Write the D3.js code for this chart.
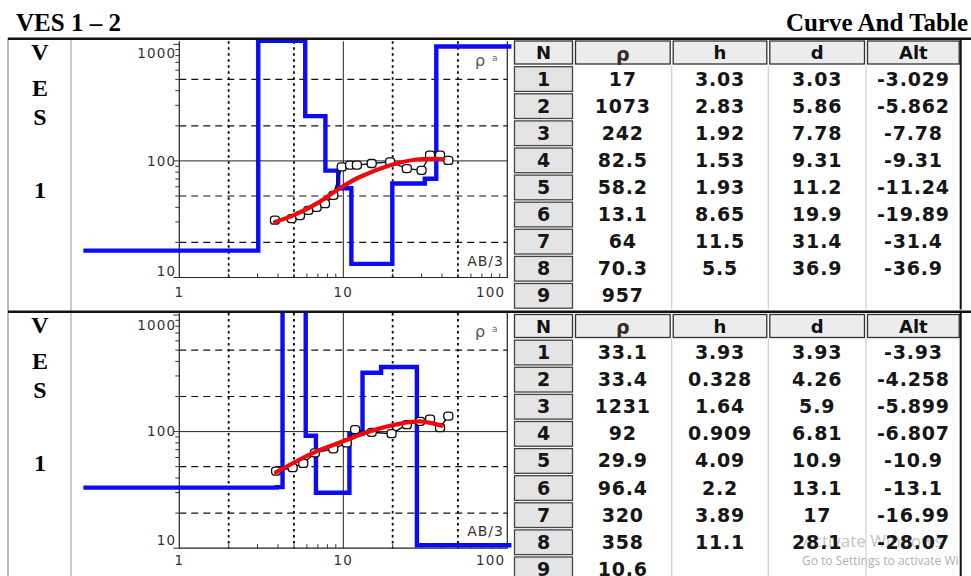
<!DOCTYPE html>
<html>
<head>
<meta charset="utf-8">
<script src="https://cdn.jsdelivr.net/npm/d3@7"></script>
<style>
  body { margin: 0; background: #fff; }
  svg { display: block; }
</style>
</head>
<body>
<svg id="chart" width="971" height="576"></svg>
<script>
// layer tables, as printed
const rho1 = ["17", "1073", "242", "82.5", "58.2", "13.1", "64", "70.3", "957"];
const h1 = ["3.03", "2.83", "1.92", "1.53", "1.93", "8.65", "11.5", "5.5"];
const d1 = ["3.03", "5.86", "7.78", "9.31", "11.2", "19.9", "31.4", "36.9"];
const alt1 = ["-3.029", "-5.862", "-7.78", "-9.31", "-11.24", "-19.89", "-31.4", "-36.9"];

const rho2 = ["33.1", "33.4", "1231", "92", "29.9", "96.4", "320", "358", "10.6"];
const h2 = ["3.93", "0.328", "1.64", "0.909", "4.09", "2.2", "3.89", "11.1"];
const d2 = ["3.93", "4.26", "5.9", "6.81", "10.9", "13.1", "17", "28.1"];
const alt2 = ["-3.93", "-4.258", "-5.899", "-6.807", "-10.9", "-13.1", "-16.99", "-28.07"];

// field points (AB/3, rho a)
const ab1 = [3.83, 4.84, 5.44, 6.12, 6.88, 7.73, 8.69, 9.78, 11, 12.1, 14.9, 19.3, 24.4, 30, 33.8, 38.9, 43.7];
const rhoA1 = [31, 32, 34, 37.7, 40, 43, 50.7, 88.8, 92, 92, 95, 98, 86, 83, 112, 112, 101];
const ab2 = [3.89, 4.91, 5.7, 6.72, 8.69, 10.5, 11.8, 14.9, 19.7, 24.4, 29.4, 33.8, 38.9, 43.7];
const rhoA2 = [45.9, 49, 53.3, 65.8, 71.2, 80, 104, 98.6, 96, 114.7, 122.5, 128, 108, 136];

// fitted (red) curves
const fitAb1 = [3.83, 4.96, 6.88, 9.78, 12.6, 19.3, 28, 40.7];
const fitRho1 = [29.9, 34.1, 43, 59.7, 72.8, 91.8, 102.8, 103.5];
const fitAb2 = [3.89, 6.56, 10, 14.6, 22.2, 29.4, 39.8];
const fitRho2 = [44.7, 65.8, 82.6, 100.6, 117, 122.5, 112.5];

const xTicks = [1, 10, 100];
const yTicks = [10, 100, 1000];
const xGrid = [2, 5, 20, 50];
const yGrid = [20, 50, 200, 500];
const modelStart = 0.26, modelEnd = 106;
const headers = ["N", "ρ", "h", "d", "Alt"];

const svg = d3.select("#chart");
const W = 971, H = 576;
const sans = "'DejaVu Sans', Verdana, sans-serif";
const serif = "'Liberation Serif', 'Times New Roman', serif";

// titles
svg.append("text").attr("x", 16).attr("y", 31)
  .attr("font-family", serif).attr("font-weight", "bold").attr("font-size", 25)
  .text("VES 1 – 2");
svg.append("text").attr("x", 968).attr("y", 31).attr("text-anchor", "end")
  .attr("font-family", serif).attr("font-weight", "bold").attr("font-size", 25)
  .text("Curve And Table");

// outer frame lines
svg.append("line").attr("x1", 8).attr("x2", 8).attr("y1", 38).attr("y2", H)
  .attr("stroke", "#777").attr("stroke-width", 1);
svg.append("line").attr("x1", 71).attr("x2", 71).attr("y1", 38).attr("y2", H)
  .attr("stroke", "#999").attr("stroke-width", 1);

const panels = [
  { top: 40, bottom: 311, yTop: 44.3, rho: rho1, h: h1, d: d1, alt: alt1, ab: ab1, ra: rhoA1, fx: fitAb1, fy: fitRho1, tTop: 39.5, lblDown: 8.5, lblUp: 6.5, xLbl: 19 },
  { top: 313, bottom: 576, yTop: 315, rho: rho2, h: h2, d: d2, alt: alt2, ab: ab2, ra: rhoA2, fx: fitAb2, fy: fitRho2, tTop: 313, lblDown: 10, lblUp: 8.5, xLbl: 17 }
];

panels.forEach((p, k) => {
  const g = svg.append("g");
  const x = d3.scaleLog().domain([1, 100]).range([179.3, 507.3]);
  const y = d3.scaleLog().domain([10, 1000]).range([p.yTop + 233.2, p.yTop]);
  const y0 = y(10), pTop = Math.max(p.top, y(1000) - 3);

  // VES label column
  const letters = ["V", "E", "S", "1"];
  const offs = [20, 56, 85, 158];
  letters.forEach((t, i) => {
    g.append("text").attr("x", 40).attr("y", p.top + offs[i]).attr("text-anchor", "middle")
      .attr("font-family", serif).attr("font-weight", "bold").attr("font-size", 24)
      .text(t);
  });

  // grid
  g.selectAll(".vg").data(xGrid).join("line")
    .attr("x1", d => x(d)).attr("x2", d => x(d)).attr("y1", pTop).attr("y2", y0)
    .attr("stroke", "#000").attr("stroke-width", 1.8).attr("stroke-dasharray", "2.5,3.5");
  g.selectAll(".hg").data(yGrid).join("line")
    .attr("x1", x(1)).attr("x2", x(100)).attr("y1", d => y(d)).attr("y2", d => y(d))
    .attr("stroke", "#111").attr("stroke-width", 1.2).attr("stroke-dasharray", "7,5");
  g.append("line").attr("x1", x(10)).attr("x2", x(10)).attr("y1", pTop).attr("y2", y0)
    .attr("stroke", "#222").attr("stroke-width", 1);
  g.append("line").attr("x1", x(1)).attr("x2", x(100)).attr("y1", y(100)).attr("y2", y(100))
    .attr("stroke", "#222").attr("stroke-width", 1);

  // frame
  g.append("path")
    .attr("d", `M${x(1)},${pTop}V${y0}H${x(100)}V${pTop}`)
    .attr("fill", "none").attr("stroke", "#222").attr("stroke-width", 1.2);

  // minor ticks
  const yMinor = d3.range(1, 3).flatMap(e => d3.range(2, 10).map(m => m * Math.pow(10, e)));
  g.selectAll(".ym").data(yMinor).join("line")
    .attr("x1", x(1) - 4).attr("x2", x(1)).attr("y1", d => y(d)).attr("y2", d => y(d))
    .attr("stroke", "#333").attr("stroke-width", 1);
  g.selectAll(".yM").data(yTicks).join("line")
    .attr("x1", x(1) - 6).attr("x2", x(1)).attr("y1", d => y(d)).attr("y2", d => y(d))
    .attr("stroke", "#333").attr("stroke-width", 1);
  const xMinor = d3.range(0, 2).flatMap(e => d3.range(2, 10).map(m => m * Math.pow(10, e)));
  g.selectAll(".xm").data(xMinor).join("line")
    .attr("x1", d => x(d)).attr("x2", d => x(d)).attr("y1", y0).attr("y2", y0 - 4)
    .attr("stroke", "#333").attr("stroke-width", 1);

  // tick labels
  g.selectAll(".yl").data(yTicks).join("text")
    .attr("x", x(1) - 3).attr("text-anchor", "end")
    .attr("y", d => Math.min(Math.max(y(d), y(1000) + p.lblDown), y0 - p.lblUp) + 4.8)
    .attr("font-family", sans).attr("font-size", 13.5).attr("letter-spacing", 1.2)
    .attr("fill", "#333").text(d => d);
  g.selectAll(".xl").data(xTicks).join("text")
    .attr("x", (d, i) => i === 2 ? x(d) - 2 : x(d))
    .attr("text-anchor", (d, i) => i === 2 ? "end" : "middle")
    .attr("y", y0 + p.xLbl)
    .attr("font-family", sans).attr("font-size", 13.5).attr("letter-spacing", 1.2)
    .attr("fill", "#333").text(d => d);

  g.append("text").attr("x", 475).attr("y", y(1000) + 22)
    .attr("font-family", sans).attr("font-size", 16).attr("fill", "#555").text("ρ");
  g.append("text").attr("x", 492).attr("y", y(1000) + 17)
    .attr("font-family", sans).attr("font-size", 9).attr("fill", "#666").text("a");
  g.append("text").attr("x", 504).attr("y", y0 - 12).attr("text-anchor", "end")
    .attr("font-family", sans).attr("font-size", 14).attr("letter-spacing", 1)
    .attr("fill", "#333").text("AB/3");

  // layered model (blue steps)
  const clipId = "clip" + k;
  svg.append("clipPath").attr("id", clipId).append("rect")
    .attr("x", 72).attr("y", p.top).attr("width", 440).attr("height", p.bottom - p.top);
  const r = p.rho.map(Number), z = p.d.map(Number);
  const steps = [[modelStart, r[0]]];
  z.forEach((v, i) => { steps.push([v, r[i]], [v, r[i + 1]]); });
  steps.push([modelEnd, r[r.length - 1]]);
  g.append("path").attr("clip-path", `url(#${clipId})`)
    .attr("d", d3.line().x(d => x(d[0])).y(d => y(d[1]))(steps))
    .attr("fill", "none").attr("stroke", "#0b0bf5").attr("stroke-width", 4.4)
    .attr("stroke-linejoin", "miter");

  // field curve
  const field = p.ab.map((v, i) => [v, p.ra[i]]);
  g.append("path").attr("d", d3.line().x(d => x(d[0])).y(d => y(d[1]))(field))
    .attr("fill", "none").attr("stroke", "#111").attr("stroke-width", 1.4);
  g.selectAll(".pt").data(field).join("rect")
    .attr("x", d => x(d[0]) - 4.5).attr("y", d => y(d[1]) - 4).attr("width", 9).attr("height", 8)
    .attr("rx", 3).attr("fill", "#fff").attr("stroke", "#111").attr("stroke-width", 1.3);

  // fitted curve
  const fit = p.fx.map((v, i) => [v, p.fy[i]]);
  g.append("path")
    .attr("d", d3.line().x(d => x(d[0])).y(d => y(d[1])).curve(d3.curveCatmullRom)(fit))
    .attr("fill", "none").attr("stroke", "#ee0a0a").attr("stroke-width", 4.2)
    .attr("stroke-linecap", "round");

  // table
  const t = svg.append("g");
  const cols = [513, 574, 671.7, 768.3, 866, 960.7];
  const headH = 26, rowH = 27.1;
  const rowsTop = p.tTop + headH;
  const tBottom = Math.min(rowsTop + 9 * rowH, H);
  t.append("rect").attr("x", cols[0]).attr("y", p.tTop).attr("width", cols[5] - cols[0])
    .attr("height", tBottom - p.tTop).attr("fill", "#fff");

  if (k === 1) {
    // watermark behind the numbers
    t.append("text").attr("x", 803).attr("y", 547).attr("font-family", "'Open Sans', sans-serif")
      .attr("font-size", 17).attr("fill", "#c4c4c4").text("Activate Windows");
    t.append("text").attr("x", 802).attr("y", 565).attr("font-family", "'Open Sans', sans-serif")
      .attr("font-size", 12).attr("fill", "#b0b0b0").text("Go to Settings to activate Wi");
  }

  // header cells
  headers.forEach((hd, i) => {
    t.append("rect").attr("x", cols[i] + 1.5).attr("y", p.tTop + 1.5)
      .attr("width", cols[i + 1] - cols[i] - 3).attr("height", headH - 3)
      .attr("fill", "#ececec").attr("stroke", "#333").attr("stroke-width", 1.3);
    t.append("text").attr("x", (cols[i] + cols[i + 1]) / 2).attr("y", p.tTop + (i === 1 ? 21 : 19.5))
      .attr("text-anchor", "middle").attr("font-family", sans).attr("font-weight", "bold")
      .attr("font-size", i === 1 ? 19 : 18).attr("fill", i === 1 ? "#3b2a22" : "#111")
      .text(hd);
  });

  // column separators
  [2, 3, 4].forEach(i => {
    t.append("line").attr("x1", cols[i]).attr("x2", cols[i]).attr("y1", rowsTop).attr("y2", tBottom)
      .attr("stroke", "#cfcfcf").attr("stroke-width", 1.2);
  });
  t.append("line").attr("x1", cols[5]).attr("x2", cols[5]).attr("y1", p.tTop).attr("y2", tBottom)
    .attr("stroke", "#111").attr("stroke-width", 2);

  // N cells and values
  d3.range(9).forEach(i => {
    const ry = rowsTop + i * rowH;
    t.append("rect").attr("x", cols[0] + 1.5).attr("y", ry + 1.2)
      .attr("width", cols[1] - cols[0] - 3).attr("height", rowH - 2.4)
      .attr("fill", "#e4e4e4").attr("stroke", "#444").attr("stroke-width", 1.3);
    const cells = [String(i + 1), p.rho[i], p.h[i] || "", p.d[i] || "", p.alt[i] || ""];
    cells.forEach((c, j) => {
      t.append("text").attr("x", (cols[j] + cols[j + 1]) / 2).attr("y", ry + rowH / 2 + 6.5)
        .attr("text-anchor", "middle").attr("font-family", sans).attr("font-weight", "bold")
        .attr("font-size", 19).attr("letter-spacing", j === 0 ? 0 : 0.8).attr("fill", "#161616")
        .text(c);
    });
  });
});

// thick row borders
[38.8, 311.8].forEach(yy => {
  svg.append("line").attr("x1", 8).attr("x2", W).attr("y1", yy).attr("y2", yy)
    .attr("stroke", "#111").attr("stroke-width", 2.5);
});
</script>
</body>
</html>
